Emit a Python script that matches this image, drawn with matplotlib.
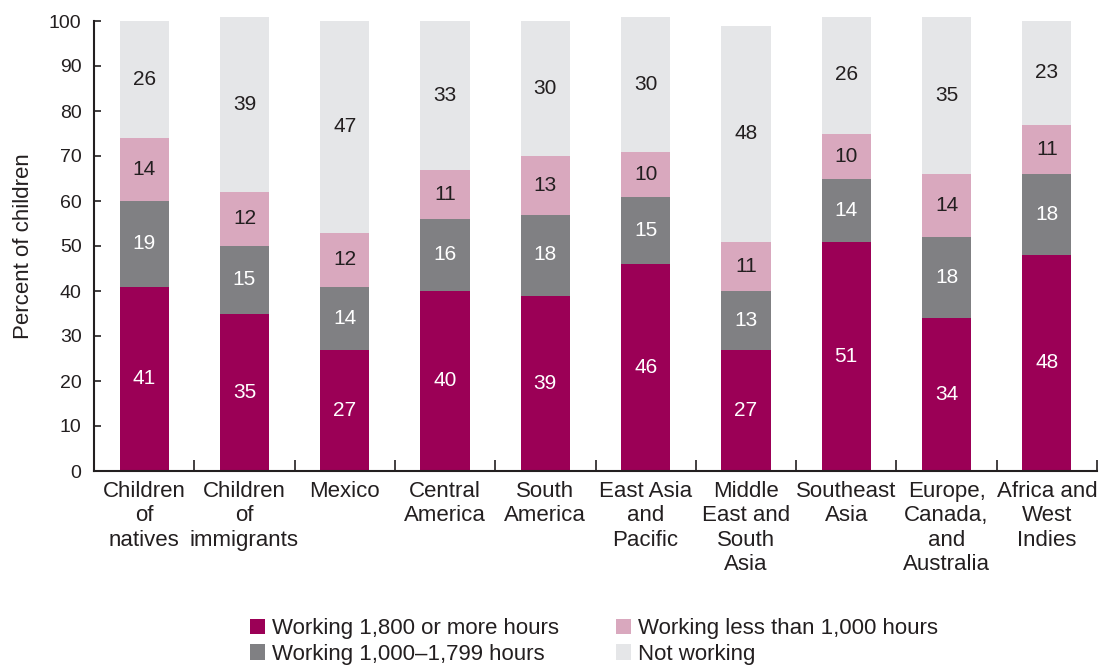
import matplotlib.pyplot as plt
import numpy as np

categories = ["Children\nof\nnatives", "Children\nof\nimmigrants", "Mexico",
              "Central\nAmerica", "South\nAmerica", "East Asia\nand\nPacific",
              "Middle\nEast and\nSouth\nAsia", "Southeast\nAsia",
              "Europe,\nCanada,\nand\nAustralia", "Africa and\nWest\nIndies"]
full_time = [41, 35, 27, 40, 39, 46, 27, 51, 34, 48]
mid_time = [19, 15, 14, 16, 18, 15, 13, 14, 18, 18]
part_time = [14, 12, 12, 11, 13, 10, 11, 10, 14, 11]
not_working = [26, 39, 47, 33, 30, 30, 48, 26, 35, 23]

series = [full_time, mid_time, part_time, not_working]
names = ["Working 1,800 or more hours", "Working 1,000\u20131,799 hours",
         "Working less than 1,000 hours", "Not working"]
colors = ["#9b0056", "#808083", "#d9a8be", "#e5e6e8"]
ink = "#231f20"
text_colors = ["white", "white", ink, ink]

plt.rcParams['font.family'] = ['Liberation Sans', 'DejaVu Sans']

fig = plt.figure(figsize=(11.12, 6.66), dpi=100)
ax = fig.add_axes([94/1112, 1 - 471/666, (1097 - 94)/1112, 450/666])

x = np.arange(len(categories))
bottom = np.zeros(len(categories))
handles = []
for vals, col, name, tc in zip(series, colors, names, text_colors):
    vals = np.array(vals)
    b = ax.bar(x, vals, 0.49, bottom=bottom, color=col, label=name, clip_on=False)
    handles.append(b)
    for xi, v, bt in zip(x, vals, bottom):
        ax.text(xi, bt + v / 2, str(v), ha='center', va='center',
                fontsize=15, color=tc)
    bottom += vals

ax.set_xlim(-0.5, len(categories) - 0.5)
ax.set_ylim(0, 100)
ax.set_yticks(range(0, 101, 10))
ax.set_xticks(np.arange(-0.5, len(categories), 1.0))
ax.set_xticklabels([])
ax.set_xticks(x, minor=True)
ax.set_xticklabels(categories, minor=True, fontsize=16, color=ink, linespacing=1.22)
ax.tick_params(axis='x', which='major', direction='in', length=8, width=1.2, color=ink)
ax.tick_params(axis='x', which='minor', length=0, pad=7)
ax.tick_params(axis='y', direction='in', length=5, width=1.2, color=ink,
               labelsize=14, labelcolor=ink, pad=9)
for s in ['top', 'right']:
    ax.spines[s].set_visible(False)
for s in ['left', 'bottom']:
    ax.spines[s].set_color(ink)
    ax.spines[s].set_linewidth(1.5)

ax.set_ylabel("Percent of children", fontsize=16, color=ink)
ax.yaxis.set_label_coords(-0.06, 0.5)

leg_kw = dict(loc='upper left', frameon=False, borderpad=0, borderaxespad=0,
              handlelength=0.68, handleheight=0.68, handletextpad=0.3,
              labelspacing=0.22, fontsize=16, labelcolor=ink)
fig.legend(handles=handles[:2], bbox_to_anchor=(250/1112, 1 - 618/666), **leg_kw)
fig.legend(handles=handles[2:], bbox_to_anchor=(616/1112, 1 - 618/666), **leg_kw)

fig.savefig("out.png", dpi=100)
